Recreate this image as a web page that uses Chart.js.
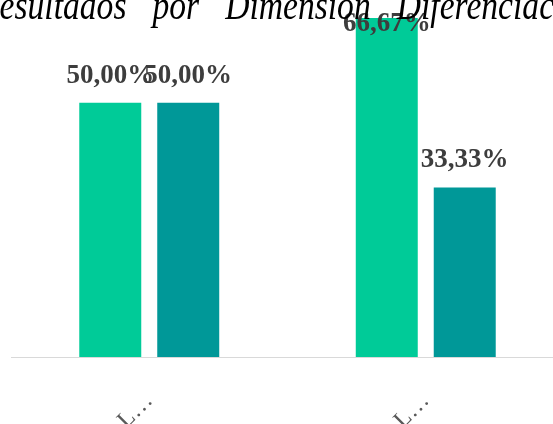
<!DOCTYPE html>
<html>
<head>
<meta charset="utf-8">
<script src="https://cdn.jsdelivr.net/npm/chart.js@4"></script>
<style>
html, body { margin: 0; padding: 0; overflow: hidden; background: #fff; }
#wrap { position: relative; width: 576px; height: 424px; }
</style>
</head>
<body>
<div id="wrap"><canvas id="chart"></canvas></div>
<script>
const titleText = 'Resultados por Dimensión Diferenciación';
const categories = ['L…', 'L…'];
const serieA = [50, 66.67];
const serieB = [50, 33.33];
const colors = ['#00cb98', '#009898'];

function formatPct(v) {
    return v.toFixed(2).replace('.', ',') + '%';
}

// Big italic title, squeezed horizontally with wide word gaps, runs past the canvas edges
const titlePlugin = {
    id: 'bigTitle',
    afterDraw(chart) {
        const ctx = chart.ctx;
        ctx.save();
        ctx.font = 'italic 42px "Liberation Serif", "Times New Roman", serif';
        ctx.fillStyle = '#000';
        ctx.textAlign = 'left';
        ctx.textBaseline = 'alphabetic';
        ctx.translate(-21, 19);
        ctx.scale(0.8, 1);
        const space = ctx.measureText(' ').width + 22;
        let x = 0;
        titleText.split(' ').forEach(word => {
            ctx.fillText(word, x, 0);
            x += ctx.measureText(word).width + space;
        });
        ctx.restore();
    }
};

// Value labels above each bar, kept inside the top of the canvas
const valueLabels = {
    id: 'valueLabels',
    afterDatasetsDraw(chart) {
        const ctx = chart.ctx;
        ctx.save();
        ctx.font = 'bold 27px "Liberation Serif", "Times New Roman", serif';
        ctx.fillStyle = '#3d3d3d';
        ctx.textAlign = 'center';
        ctx.textBaseline = 'alphabetic';
        chart.data.datasets.forEach((ds, i) => {
            chart.getDatasetMeta(i).data.forEach((bar, j) => {
                const y = Math.max(bar.y - 20, 31);
                ctx.fillText(formatPct(ds.data[j]), bar.x, y);
            });
        });
        ctx.restore();
    }
};

const ctx = document.getElementById('chart').getContext('2d');
new Chart(ctx, {
    type: 'bar',
    data: {
        labels: categories,
        datasets: [
            { label: 'Serie 1', data: serieA, backgroundColor: colors[0] },
            { label: 'Serie 2', data: serieB, backgroundColor: colors[1] }
        ]
    },
    options: {
        responsive: true,
        maintainAspectRatio: false,
        animation: false,
        layout: { padding: { left: 11, right: 12, top: 1, bottom: 0 } },
        categoryPercentage: 0.564,
        barPercentage: 0.795,
        plugins: {
            legend: { display: false },
            title: { display: false },
            tooltip: { enabled: false }
        },
        scales: {
            x: {
                grid: { display: false },
                border: { color: '#d9d9d9', width: 1 },
                ticks: {
                    color: '#595959',
                    font: { family: '"Liberation Serif", "Times New Roman", serif', size: 24 },
                    minRotation: 45,
                    maxRotation: 45,
                    padding: 22
                },
                afterFit(scale) { scale.height = 67; }
            },
            y: {
                display: false,
                min: 0,
                max: 70
            }
        }
    },
    plugins: [titlePlugin, valueLabels]
});
</script>
</body>
</html>
